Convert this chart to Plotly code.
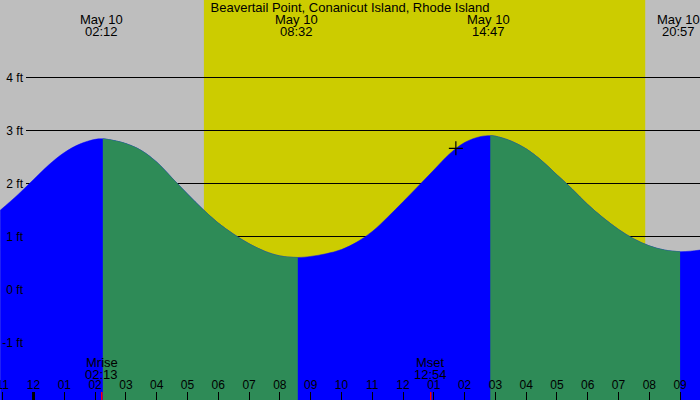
import pandas as pd
import plotly.graph_objects as go

# tide heights (ft), roughly every half hour
tideTimes = ["2000-05-09 22:55", "2000-05-09 23:30", "2000-05-10 00:00", "2000-05-10 00:30",
             "2000-05-10 01:00", "2000-05-10 01:30", "2000-05-10 02:00", "2000-05-10 02:15",
             "2000-05-10 02:30", "2000-05-10 03:00", "2000-05-10 03:30", "2000-05-10 04:00",
             "2000-05-10 04:30", "2000-05-10 05:00", "2000-05-10 05:30", "2000-05-10 06:00",
             "2000-05-10 06:30", "2000-05-10 07:00", "2000-05-10 07:30", "2000-05-10 08:00",
             "2000-05-10 08:35", "2000-05-10 09:00", "2000-05-10 09:30", "2000-05-10 10:00",
             "2000-05-10 10:30", "2000-05-10 11:00", "2000-05-10 11:30", "2000-05-10 12:00",
             "2000-05-10 12:30", "2000-05-10 13:00", "2000-05-10 13:30", "2000-05-10 14:00",
             "2000-05-10 14:30", "2000-05-10 14:50", "2000-05-10 15:00", "2000-05-10 15:30",
             "2000-05-10 16:00", "2000-05-10 16:30", "2000-05-10 17:00", "2000-05-10 17:30",
             "2000-05-10 18:00", "2000-05-10 18:30", "2000-05-10 19:00", "2000-05-10 19:30",
             "2000-05-10 20:00", "2000-05-10 20:30", "2000-05-10 21:00", "2000-05-10 21:20",
             "2000-05-10 21:39"]
tideHeights = [1.50, 1.80, 2.08, 2.36,
               2.59, 2.75, 2.84, 2.85,
               2.83, 2.76, 2.63, 2.41,
               2.11, 1.81, 1.52, 1.26,
               1.05, 0.87, 0.73, 0.64,
               0.61, 0.63, 0.68, 0.76,
               0.90, 1.10, 1.37, 1.66,
               1.96, 2.26, 2.56, 2.78,
               2.89, 2.91, 2.90, 2.81,
               2.66, 2.44, 2.17, 1.90,
               1.61, 1.36, 1.14, 0.96,
               0.83, 0.75, 0.72, 0.73,
               0.75]

# where the fill changes colour (turn of the tide as drawn)
turnTimes = ["2000-05-10 02:15", "2000-05-10 08:35", "2000-05-10 14:50", "2000-05-10 21:00"]

# high / low water labels
extremeTimes = ["2000-05-10 02:12", "2000-05-10 08:32", "2000-05-10 14:47", "2000-05-10 20:57"]
extremeLabels = ["02:12", "08:32", "14:47", "20:57"]
extremeDate = "May 10"

# sun and moon
sunrise = "2000-05-10 05:32"
sunset = "2000-05-10 19:52"
moonTimes = ["2000-05-10 02:13", "2000-05-10 12:54"]
moonNames = ["Mrise", "Mset"]
moonLabels = ["02:13", "12:54"]
midnight = "2000-05-10 00:00"

# current time marker
nowTime = "2000-05-10 13:43"
nowHeight = 2.67

heightTicks = [-1, 0, 1, 2, 3, 4]
heightLabels = ["-1 ft", "0 ft", "1 ft", "2 ft", "3 ft", "4 ft"]

title = "Beavertail Point, Conanicut Island, Rhode Island"

#Styles
nightColor = "#BEBEBE"
dayColor = "#CCCC00"
risingColor = "#0000FF"
fallingColor = "#2E8B57"
fontName = "Liberation Sans"
viewStart = pd.Timestamp("2000-05-09 22:54:40")
viewEnd = pd.Timestamp("2000-05-10 21:38:45")
yMin, yMax = -2.08, 5.47
gridStart = 26 / 700
labelPos = 23 / 700

tide = pd.DataFrame({"time": pd.to_datetime(tideTimes), "height": tideHeights})
cuts = [tide["time"].iloc[0]] + list(pd.to_datetime(turnTimes)) + [tide["time"].iloc[-1]]

fig = go.Figure()

# keeps the gridline subplot alive
fig.add_trace(go.Scatter(x=[sunrise, sunset], y=[yMin, yMin], mode="lines", line_width=0,
                         hoverinfo="skip", showlegend=False, xaxis="x", yaxis="y"))

# whole curve in the rising colour, falling stretches painted over it
fig.add_trace(go.Scatter(x=[tide["time"].iloc[0], tide["time"].iloc[-1]], y=[yMin - 1, yMin - 1],
                         mode="lines", line_width=0, hoverinfo="skip", showlegend=False,
                         xaxis="x2", yaxis="y2"))
fig.add_trace(go.Scatter(x=tide["time"], y=tide["height"], mode="lines",
                         line=dict(color=risingColor, width=0.5, shape="spline", smoothing=1),
                         fill="tonexty", fillcolor=risingColor, hoverinfo="skip", showlegend=False,
                         xaxis="x2", yaxis="y2"))

for i in range(1, len(cuts) - 1, 2):
    seg = tide[(tide["time"] >= cuts[i]) & (tide["time"] <= cuts[i + 1])]
    if len(seg) < 2:
        continue
    fig.add_trace(go.Scatter(x=[seg["time"].iloc[0], seg["time"].iloc[-1]], y=[yMin - 1, yMin - 1],
                             mode="lines", line_width=0, hoverinfo="skip", showlegend=False,
                             xaxis="x2", yaxis="y2"))
    fig.add_trace(go.Scatter(x=seg["time"], y=seg["height"], mode="lines",
                             line=dict(color=fallingColor, width=0.5, shape="spline", smoothing=1),
                             fill="tonexty", fillcolor=fallingColor, hoverinfo="skip", showlegend=False,
                             xaxis="x2", yaxis="y2"))

fig.add_trace(go.Scatter(x=[nowTime], y=[nowHeight], mode="markers",
                         marker=dict(symbol="cross-thin", size=10, line=dict(color="black", width=1.2)),
                         hoverinfo="skip", showlegend=False, xaxis="x2", yaxis="y2"))

# daylight
fig.add_shape(type="rect", xref="x", yref="y domain", x0=sunrise, x1=sunset, y0=0, y1=1,
              fillcolor=dayColor, line_width=0, layer="below")

# thick midnight tick and moon ticks
fig.add_shape(type="line", xref="x2", yref="paper", x0=midnight, x1=midnight,
              ysizemode="pixel", yanchor=0, y0=0, y1=8, line=dict(color="black", width=3))
for t in moonTimes:
    fig.add_shape(type="line", xref="x2", yref="paper", x0=t, x1=t,
                  ysizemode="pixel", yanchor=0, y0=0, y1=8, line=dict(color="red", width=1.5))

for t, name, lab in zip(moonTimes, moonNames, moonLabels):
    fig.add_annotation(x=t, xref="x2", y=0, yref="paper", text=name, showarrow=False,
                       yanchor="middle", yshift=38)
    fig.add_annotation(x=t, xref="x2", y=0, yref="paper", text=lab, showarrow=False,
                       yanchor="middle", yshift=26)

for t, lab in zip(extremeTimes, extremeLabels):
    fig.add_annotation(x=t, xref="x2", y=1, yref="paper", text=extremeDate, showarrow=False,
                       yanchor="middle", yshift=-19)
    fig.add_annotation(x=t, xref="x2", y=1, yref="paper", text=lab, showarrow=False,
                       yanchor="middle", yshift=-31)

fig.update_layout(
    width=700, height=400,
    margin=dict(l=0, r=0, t=0, b=0, autoexpand=False),
    paper_bgcolor=nightColor,
    plot_bgcolor="rgba(0,0,0,0)",
    font=dict(family=fontName, size=13, color="black"),
    title=dict(text=title, x=0.5, xanchor="center", y=1, yanchor="top", yref="container",
               pad=dict(t=3, b=0), font=dict(size=13)),
    xaxis=dict(domain=[gridStart, 1], anchor="y", type="date",
               range=[viewStart + (viewEnd - viewStart) * gridStart, viewEnd],
               showgrid=False, showticklabels=False, ticks="", zeroline=False, fixedrange=True,
               automargin=False),
    yaxis=dict(domain=[0, 1], anchor="x", range=[yMin, yMax], tickmode="array", tickvals=heightTicks,
               showgrid=True, gridcolor="black", gridwidth=1, showticklabels=False, ticks="",
               zeroline=False, fixedrange=True, automargin=False),
    xaxis2=dict(domain=[0, 1], anchor="y2", type="date", range=[viewStart, viewEnd],
                tick0=midnight, dtick=3600000, tickformat="%I", ticks="inside", ticklen=8,
                tickcolor="black", tickwidth=1, ticklabelposition="inside", ticklabeloverflow="allow",
                tickfont=dict(size=12, color="black"), showgrid=False,
                zeroline=False, fixedrange=True, automargin=False),
    yaxis2=dict(domain=[0, 1], anchor="free", position=labelPos, range=[yMin, yMax],
                tickmode="array", tickvals=heightTicks, ticktext=heightLabels, ticks="",
                tickfont=dict(size=12, color="black"),
                showgrid=False, zeroline=False, fixedrange=True, automargin=False),
)

fig.write_html("out.html", config={"displayModeBar": False},
               post_script="document.body.style.margin = '0';")
